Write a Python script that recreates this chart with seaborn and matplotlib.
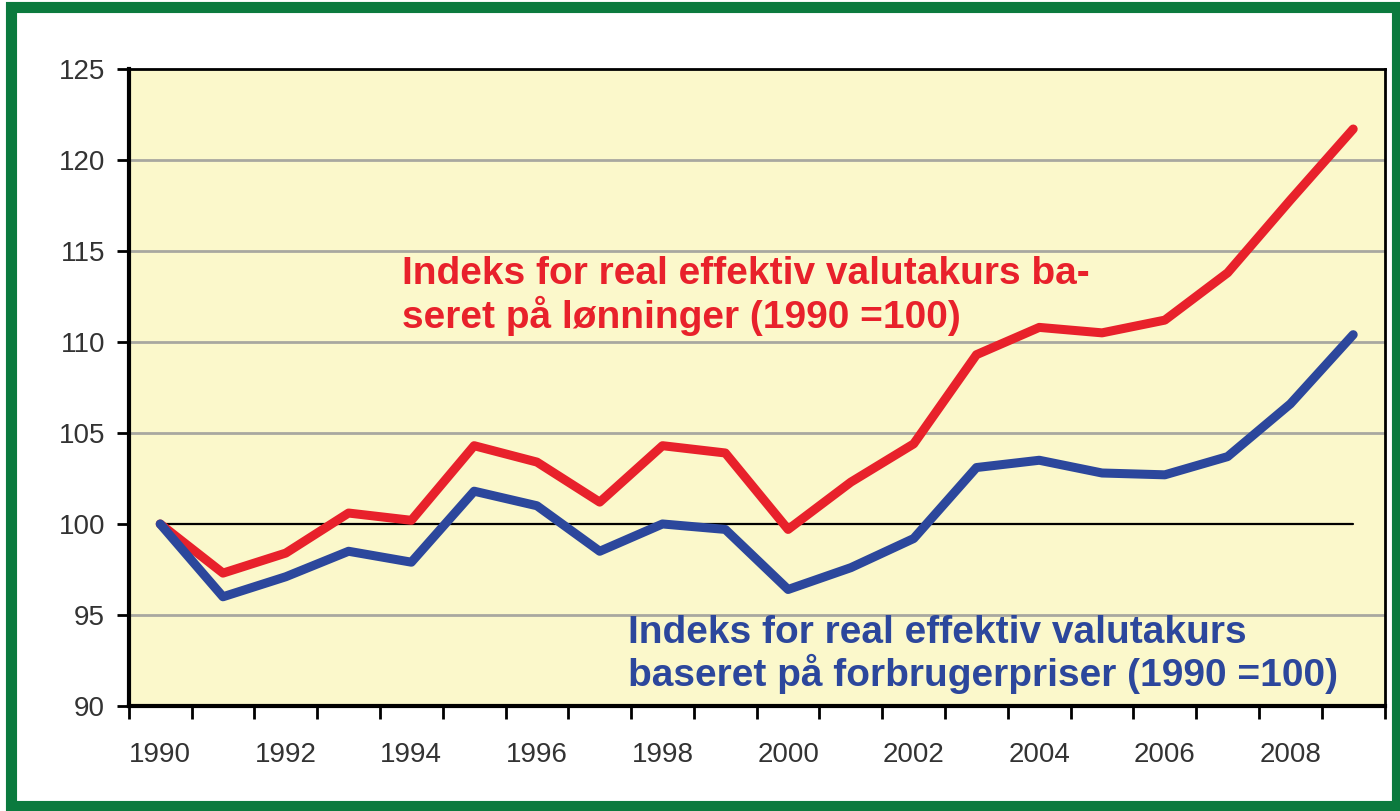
import numpy as np
import pandas as pd
import matplotlib.pyplot as plt
import seaborn as sns
from matplotlib.patches import Rectangle

# data
aar = list(range(1990, 2010))
loen = [100.0, 97.3, 98.4, 100.6, 100.2, 104.3, 103.4, 101.2, 104.3, 103.9,
        99.7, 102.3, 104.4, 109.3, 110.8, 110.5, 111.2, 113.8, 117.8, 121.7]
forbrug = [100.0, 96.0, 97.1, 98.5, 97.9, 101.8, 101.0, 98.5, 100.0, 99.7,
           96.4, 97.6, 99.2, 103.1, 103.5, 102.8, 102.7, 103.7, 106.6, 110.4]

df = pd.DataFrame({"aar": aar, "loen": loen, "forbrug": forbrug})

sns.set_theme(style="white")
plt.rcParams['font.family'] = ['Liberation Sans', 'DejaVu Sans']

fig = plt.figure(figsize=(14, 8.11), dpi=100)
ax = fig.add_axes([0.092, 0.1295, 0.897, 0.7855])
ax.set_facecolor('#fbf8cb')

# grid lines
for v in [95, 105, 110, 115, 120]:
    ax.axhline(v, color='#a8a8a0', lw=2, zorder=1)
ax.plot([1990, 2009], [100, 100], color='black', lw=1.6, zorder=2)

sns.lineplot(data=df, x="aar", y="loen", ax=ax, color='#e8212b', lw=6.5, zorder=3)
sns.lineplot(data=df, x="aar", y="forbrug", ax=ax, color='#2c479c', lw=6.5, zorder=3)

ax.set_xlim(1989.5, 2009.5)
ax.set_ylim(90, 125)
ax.set_yticks(range(90, 126, 5))
ax.set_xticks(range(1990, 2009, 2))
ax.set_xticks(np.arange(1989.5, 2010, 1), minor=True)
ax.tick_params(axis='x', which='major', length=0, pad=26, labelsize=20, labelcolor='#333333')
ax.tick_params(axis='x', which='minor', length=9, width=2, direction='out', color='black', bottom=True)
ax.tick_params(axis='y', length=9, width=2, direction='out', color='black', left=True,
               labelsize=20, labelcolor='#333333', pad=8)
ax.set_xlabel('')
ax.set_ylabel('')
for s in ax.spines.values():
    s.set_color('black')
    s.set_linewidth(2)
ax.spines['left'].set_linewidth(3)
ax.spines['bottom'].set_linewidth(3)

ax.text(1993.85, 114.7, 'Indeks for real effektiv valutakurs ba-\nseret på lønninger (1990 =100)',
        color='#e8212b', fontsize=28, fontweight='bold', va='top', ha='left', linespacing=1.1)
ax.text(1997.45, 95.0, 'Indeks for real effektiv valutakurs\nbaseret på forbrugerpriser (1990 =100)',
        color='#2c479c', fontsize=28, fontweight='bold', va='top', ha='left', linespacing=1.1)

# green frame around the figure
fig.patches.append(Rectangle((0.008, 0.006), 0.99, 0.985, transform=fig.transFigure,
                             fill=False, edgecolor='#0b7a3e', lw=8))

fig.savefig('out.png', dpi=100)
